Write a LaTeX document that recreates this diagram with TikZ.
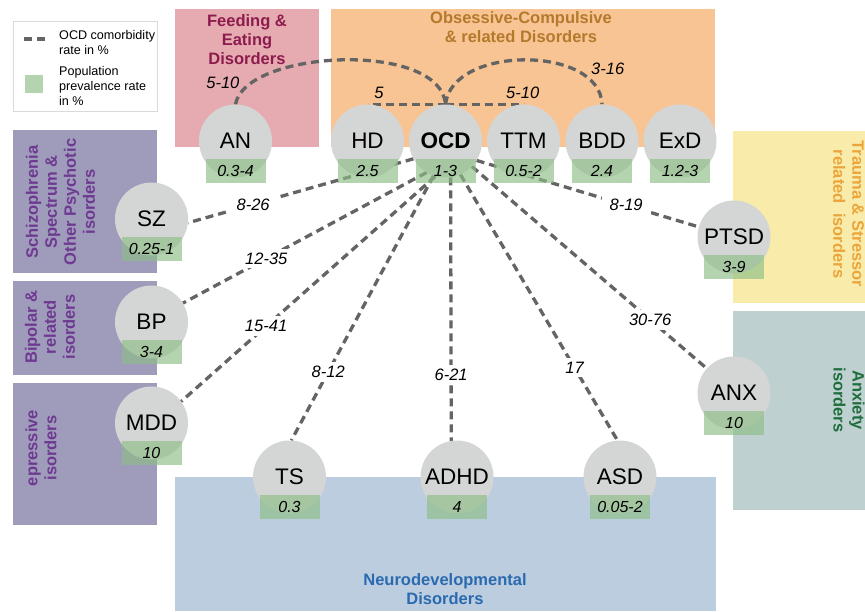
\documentclass[tikz,border=0pt]{standalone}
\usepackage{fontspec}
\setmainfont{Liberation Sans}
\pgfdeclarelayer{back}
\pgfdeclarelayer{lines}
\pgfsetlayers{back,lines,main}
\definecolor{feedpink}{HTML}{E5ABB1}
\definecolor{ocdorange}{HTML}{F9C493}
\definecolor{psypurple}{HTML}{9F9BBB}
\definecolor{trauyellow}{HTML}{F9ECAA}
\definecolor{anxteal}{HTML}{BED0D0}
\definecolor{neublue}{HTML}{BCCDE0}
\definecolor{circgray}{HTML}{D4D5D5}
\definecolor{prevgreen}{HTML}{8DBE86}
\definecolor{dashgray}{HTML}{646464}
\definecolor{legborder}{HTML}{DADADA}
\definecolor{feedtxt}{HTML}{8E1B4E}
\definecolor{ocdtxt}{HTML}{B37A2C}
\definecolor{psytxt}{HTML}{6E3A91}
\definecolor{trautxt}{HTML}{EBA53A}
\definecolor{anxtxt}{HTML}{1F6E3C}
\definecolor{neutxt}{HTML}{2A6AAE}
\begin{document}
\begin{tikzpicture}[x=1pt,y=-1pt,
  dis/.style={circle, fill=circgray, minimum size=73pt, inner sep=0pt,
    font=\fontsize{22.5}{27}\selectfont},
  prev/.style={rectangle, fill=prevgreen, fill opacity=0.65, text opacity=1,
    minimum width=60pt, minimum height=24pt, inner sep=0pt,
    font=\fontsize{16}{19}\selectfont\itshape},
  comor/.style={draw=dashgray, line width=3.3pt, dash pattern=on 8pt off 5pt},
  elab/.style={fill=white, inner xsep=8pt, inner ysep=4pt,
    font=\fontsize{16.5}{19}\selectfont\itshape},
  tlab/.style={inner sep=0pt, font=\fontsize{16.5}{19}\selectfont\itshape},
  gtitle/.style={inner sep=0pt, align=center,
    font=\fontsize{16.5}{19}\selectfont\bfseries},
  legtext/.style={inner sep=0pt, align=left, anchor=west,
    font=\fontsize{12.6}{15}\selectfont}
]
\useasboundingbox (0,0) rectangle (865,611);
\begin{pgfonlayer}{back}
\fill[white] (0,0) rectangle (865,611);
\fill[feedpink] (175,9) rectangle (319,147);
\fill[ocdorange] (331,9) rectangle (715,147);
\fill[psypurple] (13,130) rectangle (157,273);
\fill[psypurple] (13,281) rectangle (157,375);
\fill[psypurple] (13,383) rectangle (157,525);
\fill[trauyellow] (733,131) rectangle (865,303);
\fill[anxteal] (733,311) rectangle (865,510);
\fill[neublue] (175,477) rectangle (716,611);
\draw[legborder, line width=0.8pt] (13,21) rectangle (157,111);
\end{pgfonlayer}

% legend
\coordinate (lgA) at (24,39);
\coordinate (lgB) at (45,39);
\draw[comor] (lgA) -- (lgB);
\node[prev, minimum width=18pt, minimum height=18pt] (lgsq) at (34,84) {};
\node[legtext] (lgt1) at (59,42.5) {OCD comorbidity\\rate in \%};
\node[legtext] (lgt2) at (59,86) {Population\\prevalence rate\\in \%};

% group titles
\node[gtitle, text=feedtxt] (tfeed) at (247,39.5) {Feeding \&\\Eating\\Disorders};
\node[gtitle, text=ocdtxt] (tocd) at (521,27) {Obsessive-Compulsive\\\& related Disorders};
\node[gtitle, text=neutxt] (tneu) at (445,589) {Neurodevelopmental\\Disorders};
\node[gtitle, text=psytxt, rotate=90] (tsz) at (60.5,202) {Schizophrenia\\Spectrum \&\\Other Psychotic\\isorders};
\node[gtitle, text=psytxt, rotate=90] (tbp) at (50,327) {Bipolar \&\\related\\isorders};
\node[gtitle, text=psytxt, rotate=90] (tmdd) at (41,448) {epressive\\isorders};
\node[gtitle, text=trautxt, rotate=-90] (ttra) at (848.5,214) {Trauma \& Stressor\\related\ \ isorders};
\node[gtitle, text=anxtxt, rotate=-90] (tanx) at (849,400) {Anxiety\\isorders};

% disorder circles
\node[dis] (AN) at (235.5,141) {AN};
\node[dis] (HD) at (367.5,141) {HD};
\node[dis, font=\fontsize{22.5}{27}\selectfont\bfseries] (OCD) at (445.5,141) {OCD};
\node[dis] (TTM) at (523.5,141) {TTM};
\node[dis] (BDD) at (602,141) {BDD};
\node[dis] (ExD) at (680,141) {ExD};
\node[dis] (SZ) at (151.5,219) {SZ};
\node[dis] (BP) at (151.5,322) {BP};
\node[dis] (MDD) at (151.5,423) {MDD};
\node[dis] (PTSD) at (734,237) {PTSD};
\node[dis] (ANX) at (734,393) {ANX};
\node[dis] (TS) at (289.5,477) {TS};
\node[dis] (ADHD) at (457,477) {ADHD};
\node[dis] (ASD) at (620,477) {ASD};

% prevalence boxes
\node[prev] (ANp) at (235.5,171) {0.3-4};
\node[prev] (HDp) at (367.5,171) {2.5};
\node[prev] (OCDp) at (445.5,171) {1-3};
\node[prev] (TTMp) at (523.5,171) {0.5-2};
\node[prev] (BDDp) at (602,171) {2.4};
\node[prev] (ExDp) at (680,171) {1.2-3};
\node[prev] (SZp) at (151.5,249) {0.25-1};
\node[prev] (BPp) at (151.5,352) {3-4};
\node[prev] (MDDp) at (151.5,453) {10};
\node[prev] (PTSDp) at (734,267) {3-9};
\node[prev] (ANXp) at (734,423) {10};
\node[prev] (TSp) at (289.5,507) {0.3};
\node[prev] (ADHDp) at (457,507) {4};
\node[prev] (ASDp) at (620,507) {0.05-2};

% comorbidity connectors
\begin{pgfonlayer}{lines}
\draw[comor] (AN.north) .. controls (245,50) and (440,40) .. (OCD.north)
  node[tlab, pos=0.15, left=10pt] (lAN) {5-10};
\draw[comor] (OCD.north) .. controls (452,45) and (600,45) .. (BDD.north)
  node[tlab, pos=0.8, anchor=south west, xshift=4pt] (lBDD) {3-16};
\draw[comor] (OCD.north) -- node[tlab, pos=0.853, above=4pt] (lHD) {5} (HD.north);
\draw[comor] (OCD.north) -- node[tlab, pos=0.99, above=4pt] (lTTM) {5-10} (TTM.north);
\draw[comor] (OCD.209) -- node[elab, pos=0.711] (lSZ) {8-26} (SZ.-6);
\draw[comor] (OCD.239) -- node[elab, pos=0.658] (lBP) {12-35} (BP.31.6);
\draw[comor] (OCD.254.4) -- node[elab, pos=0.666] (lMDD) {15-41} (MDD.36.2);
\draw[comor] (OCD.251.6) -- node[elab, pos=0.741] (lTS) {8-12} (TS.87.7);
\draw[comor] (OCD.278.7) -- node[elab, pos=0.75] (lADHD) {6-21} (ADHD.99.5);
\draw[comor] (OCD.294.7) -- node[elab, pos=0.727] (lASD) {17} (ASD.94.8);
\draw[comor] (OCD.316) -- node[elab, pos=0.759] (lANX) {30-76} (ANX.138.4);
\draw[comor] (OCD.328) -- node[elab, pos=0.673] (lPTSD) {8-19} (PTSD.164.9);
\end{pgfonlayer}
\end{tikzpicture}
\end{document}
